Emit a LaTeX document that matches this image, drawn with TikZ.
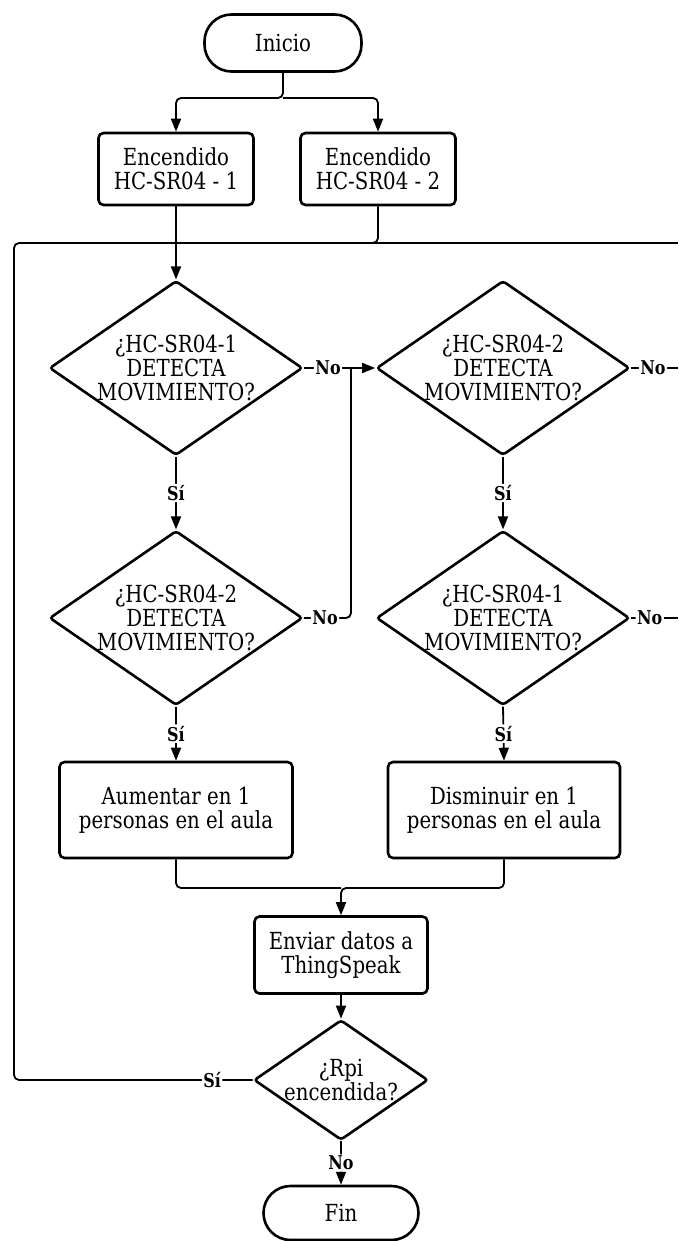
\documentclass[tikz,border=0pt]{standalone}
\usepackage{fontspec}
\setmainfont{DejaVu Serif}[FakeStretch=0.84]
\usetikzlibrary{shapes.geometric,arrows.meta}
\tikzset{
  boxnode/.style={draw, line width=2.6pt, rounded corners=5pt, align=center, inner sep=2pt, font=\fontsize{23.5}{24}\selectfont},
  termnode/.style={boxnode, rounded corners=27pt},
  decnode/.style={draw, line width=2.6pt, diamond, rounded corners=3pt, aspect=1.45, inner sep=0pt, align=center, font=\fontsize{23.5}{24}\selectfont},
  conn/.style={line width=1.8pt, rounded corners=5pt},
  arr/.style={conn, -{Triangle[length=13pt,width=10pt]}},
  lab/.style={fill=white, inner sep=1.5pt, font=\fontsize{19}{19}\selectfont\bfseries}
}
\begin{document}
\begin{tikzpicture}[x=1pt,y=-1pt]
\useasboundingbox (0,0) rectangle (678,1241);
% nodes
\node[termnode, minimum width=157pt, minimum height=57pt] (ini) at (283,43) {Inicio};
\node[boxnode, minimum width=155pt, minimum height=72pt] (b1) at (176,169) {Encendido\\HC-SR04 - 1};
\node[boxnode, minimum width=155pt, minimum height=72pt] (b2) at (378,169) {Encendido\\HC-SR04 - 2};
\node[decnode, minimum width=247pt, minimum height=170pt] (d1) at (176,368) {¿HC-SR04-1\\DETECTA\\MOVIMIENTO?};
\node[decnode, minimum width=247pt, minimum height=170pt] (d2) at (503,368) {¿HC-SR04-2\\DETECTA\\MOVIMIENTO?};
\node[decnode, minimum width=247pt, minimum height=170pt] (d3) at (176,618) {¿HC-SR04-2\\DETECTA\\MOVIMIENTO?};
\node[decnode, minimum width=247pt, minimum height=170pt] (d4) at (503,618) {¿HC-SR04-1\\DETECTA\\MOVIMIENTO?};
\node[boxnode, minimum width=233pt, minimum height=96pt] (aum) at (176,810) {Aumentar en 1\\personas en el aula};
\node[boxnode, minimum width=232pt, minimum height=96pt] (dis) at (504,810) {Disminuir en 1\\personas en el aula};
\node[boxnode, minimum width=173pt, minimum height=77pt] (env) at (341,955) {Enviar datos a\\ThingSpeak};
\node[decnode, minimum width=170pt, minimum height=95pt] (rpi) at (341,1080) {¿Rpi\\encendida?};
\node[termnode, minimum width=155pt, minimum height=54pt] (fin) at (341,1213) {Fin};
% coordinates
\coordinate (s1) at (283,98);
\coordinate (j1) at (176,243);
\coordinate (lt) at (14,243);
\coordinate (lb) at (14,1080);
\coordinate (re) at (678,243);
\coordinate (m) at (351,368);
\coordinate (r2) at (678,368);
\coordinate (r4) at (678,618);
\coordinate (s2) at (341,888);
% connectors
\draw[arr] (ini.south) -- (s1) -| (b1.north);
\draw[arr] (s1) -| (b2.north);
\draw[arr] (b1.south) -- (d1.north);
\draw[conn] (b2.south) |- (j1);
\draw[conn] (j1) -- (re);
\draw[conn] (rpi.west) -- node[lab, pos=0.17]{Sí} (lb) -- (lt) -- (j1);
\draw[arr] (d1.east) -- node[lab, pos=0.34]{No} (d2.west);
\draw[conn] (d3.east) -- node[lab, pos=0.45]{No} (d3.east -| m) -- (m);
\draw[conn] (d2.east) -- node[lab, pos=0.47]{No} (r2);
\draw[conn] (d4.east) -- node[lab, pos=0.4]{No} (r4);
\draw[arr] (d1.south) -- node[lab]{Sí} (d3.north);
\draw[arr] (d2.south) -- node[lab]{Sí} (d4.north);
\draw[arr] (d3.south) -- node[lab]{Sí} (aum.north);
\draw[arr] (d4.south) -- node[lab]{Sí} (dis.north);
\draw[conn] (aum.south) |- (s2);
\draw[arr] (dis.south) |- (s2) -- (env.north);
\draw[arr] (env.south) -- (rpi.north);
\draw[arr] (rpi.south) -- node[lab]{No} (fin.north);
\end{tikzpicture}
\end{document}
